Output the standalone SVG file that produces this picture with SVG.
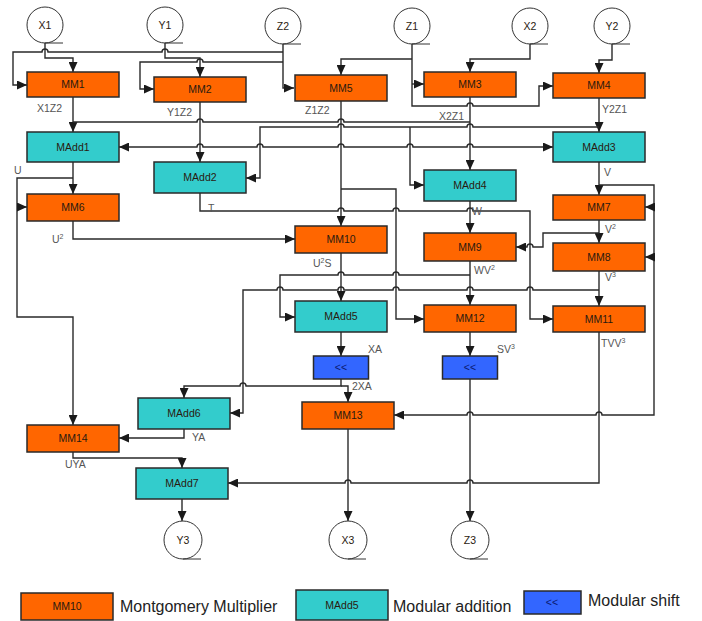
<svg xmlns="http://www.w3.org/2000/svg" width="702" height="621" viewBox="0 0 702 621">
<defs>
<marker id="ah" markerUnits="userSpaceOnUse" markerWidth="10" markerHeight="9" refX="10" refY="4.5" orient="auto-start-reverse" viewBox="0 0 10 9">
<path d="M0,0 L10,4.5 L0,9 z" fill="#1a1a1a"/>
</marker>
</defs>
<style>
.mm{fill:#FF6600;stroke:#2a2a2a;stroke-width:1.5}
.ma{fill:#33CCCC;stroke:#2a2a2a;stroke-width:1.5}
.sh{fill:#3366FF;stroke:#2a2a2a;stroke-width:1.5}
.io{fill:#fff;stroke:#333;stroke-width:1}
.tail{fill:none;stroke:#333;stroke-width:1}
text{font-family:"Liberation Sans",Arial,sans-serif}
.t{font-size:10.5px;text-anchor:middle;fill:#2a1a10}
.ts{font-size:10.5px;text-anchor:middle;fill:#0a1a70}
.lb{font-size:10.5px;fill:#555}
.lg{font-size:16px;fill:#222}
.w{fill:none;stroke:#2a2a2a;stroke-width:1.4}
.a{marker-end:url(#ah)}
.ab{marker-start:url(#ah);marker-end:url(#ah)}
</style>

<g id="connectors">
<path class="w a" d="M45,43 V58 H73 V72"/>
<path class="w a" d="M283,52 H168 a3,3 0 0 0 -6,0 H48 a3,3 0 0 0 -6,0 H13 V85 H27"/>
<path class="w a" d="M165,43 V58 H200 V77"/>
<path class="w a" d="M283,62 H203 a3,3 0 0 0 -6,0 H140 V89 H154"/>
<path class="w a" d="M283,44 V88 H294"/>
<path class="w a" d="M412,44 V106 H467 a3,3 0 0 1 6,0 H539 V86 H553"/>
<path class="w a" d="M412,59 H341 V75"/>
<path class="w a" d="M412,84 H424"/>
<path class="w a" d="M530,44 V59 H470 V72"/>
<path class="w a" d="M612,44 V60 H599 V73"/>
<path class="w a" d="M73,97 V132"/>
<path class="w" d="M470,122 H344 a3,3 0 0 0 -6,0 H203 a3,3 0 0 0 -6,0 H73"/>
<path class="w a" d="M470,97 V170"/>
<path class="w a" d="M200,102 V162"/>
<path class="w a" d="M341,101 V226"/>
<path class="w a" d="M599,98 V132"/>
<path class="w a" d="M599,127 H473 a3,3 0 0 0 -6,0 H344 a3,3 0 0 0 -6,0 H260 V178 H246"/>
<path class="w a" d="M410,127 V185 H424"/>
<path class="w ab" d="M119,147 H197 a3,3 0 0 1 6,0 H257 a3,3 0 0 1 6,0 H338 a3,3 0 0 1 6,0 H407 a3,3 0 0 1 6,0 H467 a3,3 0 0 1 6,0 H553"/>
<path class="w a" d="M73,162 V194"/>
<path class="w a" d="M73,178 H17 V317 H73 V425"/>
<path class="w a" d="M17,207 H27"/>
<path class="w a" d="M73,221 V239 H295"/>
<path class="w a" d="M200,193 V211 H338 a3,3 0 0 1 6,0 H393 a3,3 0 0 1 6,0 H467 a3,3 0 0 1 6,0 H530 V319 H553"/>
<path class="w a" d="M470,201 V233"/>
<path class="w a" d="M341,189 H396 V319 H424"/>
<path class="w a" d="M599,162 V195"/>
<path class="w a" d="M599,185 H654 V415 H602 a3,3 0 0 0 -6,0 H473 a3,3 0 0 0 -6,0 H394"/>
<path class="w a" d="M654,207 H645"/>
<path class="w a" d="M654,257 H645"/>
<path class="w a" d="M599,220 V243"/>
<path class="w a" d="M599,233 H543 V247 H533 a3,3 0 0 0 -6,0 H516"/>
<path class="w a" d="M599,271 V306"/>
<path class="w a" d="M599,290 H533 a3,3 0 0 0 -6,0 H473 a3,3 0 0 0 -6,0 H399 a3,3 0 0 0 -6,0 H344 a3,3 0 0 0 -6,0 H283 a3,3 0 0 0 -6,0 H243 V413 H230"/>
<path class="w a" d="M470,261 V305"/>
<path class="w a" d="M470,275 H399 a3,3 0 0 0 -6,0 H344 a3,3 0 0 0 -6,0 H280 V317 H295"/>
<path class="w a" d="M341,253 V301"/>
<path class="w a" d="M599,332 V483 H473 a3,3 0 0 0 -6,0 H351 a3,3 0 0 0 -6,0 H228"/>
<path class="w a" d="M470,332 V356"/>
<path class="w a" d="M341,332 V356"/>
<path class="w a" d="M341,379 V386 H246 a3,3 0 0 0 -6,0 H184 V398"/>
<path class="w a" d="M341,386 H348 V402"/>
<path class="w a" d="M470,379 V521"/>
<path class="w a" d="M348,429 V521"/>
<path class="w a" d="M184,429 V438 H119"/>
<path class="w a" d="M73,452 V458 H182 V468"/>
<path class="w a" d="M182,499 V521"/>
</g>

<g id="labels">
<text class="lb" x="37" y="112">X1Z2</text>
<text class="lb" x="167" y="116">Y1Z2</text>
<text class="lb" x="305" y="114">Z1Z2</text>
<text class="lb" x="439" y="120">X2Z1</text>
<text class="lb" x="602" y="113">Y2Z1</text>
<text class="lb" x="14" y="174">U</text>
<text class="lb" x="208" y="212">T</text>
<text class="lb" x="604" y="176">V</text>
<text class="lb" x="472" y="215">W</text>
<text class="lb" x="52" y="243">U<tspan font-size="7" dy="-4">2</tspan></text>
<text class="lb" x="605" y="233">V<tspan font-size="7" dy="-4">2</tspan></text>
<text class="lb" x="605" y="281">V<tspan font-size="7" dy="-4">3</tspan></text>
<text class="lb" x="474" y="274">WV<tspan font-size="7" dy="-4">2</tspan></text>
<text class="lb" x="313" y="267">U<tspan font-size="7" dy="-4">2</tspan><tspan dy="4">S</tspan></text>
<text class="lb" x="368" y="353">XA</text>
<text class="lb" x="497" y="353">SV<tspan font-size="7" dy="-4">3</tspan></text>
<text class="lb" x="601" y="347">TVV<tspan font-size="7" dy="-4">3</tspan></text>
<text class="lb" x="352" y="390">2XA</text>
<text class="lb" x="192" y="441">YA</text>
<text class="lb" x="65" y="468">UYA</text>
</g>

<g id="X1"><circle class="io" cx="45" cy="25" r="18"/><path class="tail" d="M45,43 H63"/><text class="t" x="45" y="29">X1</text></g>
<g id="Y1"><circle class="io" cx="165" cy="25" r="18"/><path class="tail" d="M165,43 H183"/><text class="t" x="165" y="29">Y1</text></g>
<g id="Z2"><circle class="io" cx="283" cy="26" r="18"/><path class="tail" d="M283,44 H301"/><text class="t" x="283" y="30">Z2</text></g>
<g id="Z1"><circle class="io" cx="412" cy="26" r="18"/><path class="tail" d="M412,44 H430"/><text class="t" x="412" y="30">Z1</text></g>
<g id="X2"><circle class="io" cx="530" cy="26" r="18"/><path class="tail" d="M530,44 H548"/><text class="t" x="530" y="30">X2</text></g>
<g id="Y2"><circle class="io" cx="612" cy="26" r="18"/><path class="tail" d="M612,44 H630"/><text class="t" x="612" y="30">Y2</text></g>

<g id="MM1"><rect class="mm" x="27" y="72" width="92" height="25"/><text class="t" x="73" y="88">MM1</text></g>
<g id="MM2"><rect class="mm" x="154" y="77" width="92" height="25"/><text class="t" x="200" y="93">MM2</text></g>
<g id="MM5"><rect class="mm" x="295" y="75" width="92" height="26"/><text class="t" x="341" y="92">MM5</text></g>
<g id="MM3"><rect class="mm" x="424" y="72" width="92" height="25"/><text class="t" x="470" y="88">MM3</text></g>
<g id="MM4"><rect class="mm" x="553" y="73" width="92" height="25"/><text class="t" x="599" y="89">MM4</text></g>
<g id="MAdd1"><rect class="ma" x="27" y="132" width="92" height="30"/><text class="t" x="73" y="151">MAdd1</text></g>
<g id="MAdd2"><rect class="ma" x="154" y="162" width="92" height="31"/><text class="t" x="200" y="181">MAdd2</text></g>
<g id="MAdd3"><rect class="ma" x="553" y="132" width="92" height="30"/><text class="t" x="599" y="151">MAdd3</text></g>
<g id="MAdd4"><rect class="ma" x="424" y="170" width="92" height="31"/><text class="t" x="470" y="189">MAdd4</text></g>
<g id="MM6"><rect class="mm" x="27" y="194" width="92" height="27"/><text class="t" x="73" y="211">MM6</text></g>
<g id="MM7"><rect class="mm" x="553" y="195" width="92" height="25"/><text class="t" x="599" y="211">MM7</text></g>
<g id="MM10"><rect class="mm" x="295" y="226" width="92" height="27"/><text class="t" x="341" y="243">MM10</text></g>
<g id="MM9"><rect class="mm" x="424" y="233" width="92" height="28"/><text class="t" x="470" y="251">MM9</text></g>
<g id="MM8"><rect class="mm" x="553" y="243" width="92" height="28"/><text class="t" x="599" y="261">MM8</text></g>
<g id="MAdd5"><rect class="ma" x="295" y="301" width="92" height="31"/><text class="t" x="341" y="320">MAdd5</text></g>
<g id="MM12"><rect class="mm" x="424" y="305" width="92" height="27"/><text class="t" x="470" y="322">MM12</text></g>
<g id="MM11"><rect class="mm" x="553" y="306" width="92" height="26"/><text class="t" x="599" y="323">MM11</text></g>
<g id="SH1"><rect class="sh" x="313.5" y="356" width="55" height="23"/><text class="ts" x="341" y="371">&lt;&lt;</text></g>
<g id="SH2"><rect class="sh" x="442.5" y="356" width="55" height="23"/><text class="ts" x="470" y="371">&lt;&lt;</text></g>
<g id="MAdd6"><rect class="ma" x="138" y="398" width="92" height="31"/><text class="t" x="184" y="417">MAdd6</text></g>
<g id="MM13"><rect class="mm" x="302" y="402" width="92" height="27"/><text class="t" x="348" y="419">MM13</text></g>
<g id="MM14"><rect class="mm" x="27" y="425" width="92" height="27"/><text class="t" x="73" y="442">MM14</text></g>
<g id="MAdd7"><rect class="ma" x="136" y="468" width="92" height="31"/><text class="t" x="182" y="487">MAdd7</text></g>

<g id="Y3"><circle class="io" cx="183" cy="540" r="19"/><path class="tail" d="M183,559 H201"/><text class="t" x="183" y="544">Y3</text></g>
<g id="X3"><circle class="io" cx="348" cy="540" r="19"/><path class="tail" d="M348,559 H366"/><text class="t" x="348" y="544">X3</text></g>
<g id="Z3"><circle class="io" cx="470" cy="540" r="19"/><path class="tail" d="M470,559 H488"/><text class="t" x="470" y="544">Z3</text></g>

<g id="legend">
<rect class="mm" x="21" y="593" width="92" height="27"/><text class="t" x="67" y="610">MM10</text>
<text class="lg" x="120" y="612">Montgomery Multiplier</text>
<rect class="ma" x="296" y="590" width="92" height="30"/><text class="t" x="342" y="609">MAdd5</text>
<text class="lg" x="393" y="612">Modular addition</text>
<rect class="sh" x="524" y="591" width="57" height="23"/><text class="ts" x="552" y="606">&lt;&lt;</text>
<text class="lg" x="588" y="606">Modular shift</text>
</g>
</svg>
